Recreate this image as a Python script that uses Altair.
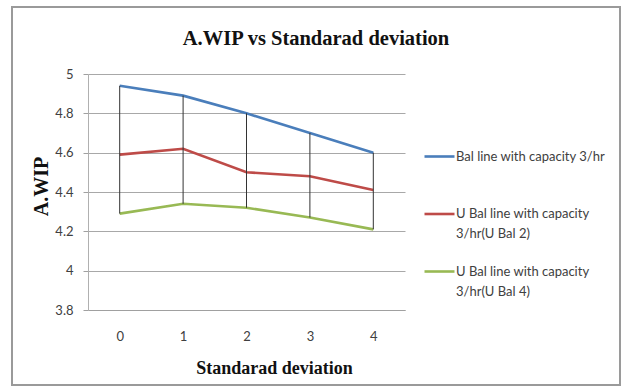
import altair as alt
import pandas as pd

sd = [0, 1, 2, 3, 4]
bal = [4.94, 4.89, 4.80, 4.70, 4.60]
ubal2 = [4.59, 4.62, 4.50, 4.48, 4.41]
ubal4 = [4.29, 4.34, 4.32, 4.27, 4.21]
series_names = [
    "Bal line with capacity 3/hr|",
    "U Bal line with capacity|3/hr(U Bal 2)",
    "U Bal line with capacity|3/hr(U Bal 4)",
]
colors = ["#4a7ebb", "#be4b48", "#98b954"]
y_ticks = [3.8, 4.0, 4.2, 4.4, 4.6, 4.8, 5.0]

rows = []
for name, vals in zip(series_names, [bal, ubal2, ubal4]):
    for x, v in zip(sd, vals):
        rows.append({"sd": x, "value": v, "series": name})
df = pd.DataFrame(rows)
df_hl = pd.DataFrame({"sd": sd, "lo": ubal4, "hi": bal})

W, H = 317, 236
xscale = alt.Scale(type="point", padding=0.5)
yscale = alt.Scale(domain=[3.8, 5.0], nice=False, zero=False)

base_font = "Lato"

x_axis = alt.Axis(
    title="Standarad deviation",
    grid=False,
    labelAngle=0,
    labelFont=base_font,
    labelFontSize=13,
    labelColor="#404040",
    labelPadding=20,
    tickSize=0,
    domainColor="#a0a0a0",
    titleFont="Liberation Serif",
    titleFontWeight="bold",
    titleFontSize=18,
    titleColor="#111111",
    titleX=186,
    titleY=58,
    titleBaseline="middle",
)
y_axis = alt.Axis(
    title="A.WIP",
    values=y_ticks,
    grid=True,
    labelOverlap=False,
    format=".1~f",
    labelFont=base_font,
    labelFontSize=13,
    labelColor="#404040",
    labelPadding=10,
    tickSize=5,
    tickColor="#a0a0a0",
    domainColor="#b0b0b0",
    gridColor="#a8a8a8",
    titleFont="Liberation Serif",
    titleFontWeight="bold",
    titleFontSize=20,
    titleColor="#111111",
    titleX=-47,
    titleY=112,
    titleBaseline="middle",
    titleAngle=-90,
)

border = alt.Chart(pd.DataFrame({"a": [0]})).mark_rect(
    fill=None, stroke="#9a9a9a", strokeWidth=2
).encode(
    x=alt.value(-76), x2=alt.value(532), y=alt.value(-67), y2=alt.value(311)
)

hilo = alt.Chart(df_hl).mark_rule(color="#333333", strokeWidth=1).encode(
    x=alt.X("sd:O", scale=xscale, axis=x_axis),
    y=alt.Y("lo:Q", scale=yscale, axis=y_axis),
    y2="hi:Q",
)

lines = alt.Chart(df).mark_line(strokeWidth=2.6).encode(
    x=alt.X("sd:O", scale=xscale, axis=x_axis),
    y=alt.Y("value:Q", scale=yscale, axis=y_axis),
    color=alt.Color(
        "series:N",
        scale=alt.Scale(domain=series_names, range=colors),
        legend=alt.Legend(
            title=None,
            orient="none",
            legendX=335,
            legendY=66,
            symbolType="stroke",
            symbolSize=900,
            symbolStrokeWidth=2.6,
            labelExpr="split(datum.label, '|')",
            labelFont=base_font,
            labelFontSize=13,
            labelColor="#404040",
            labelOffset=0,
            labelBaseline="middle",
            rowPadding=13.5,
            labelLimit=300,
            padding=0,
        ),
    ),
)

chart = (
    alt.layer(border, lines, hilo)
    .properties(
        width=W,
        height=H,
        padding={"left": 11, "top": 6, "right": 2, "bottom": 2},
        background="white",
        title=alt.TitleParams(
            "A.WIP vs Standarad deviation",
            font="Liberation Serif",
            fontWeight="bold",
            fontSize=20.5,
            color="#111111",
            frame="bounds",
            anchor="middle",
            offset=-43,
        ),
    )
    .configure(
        view={"stroke": None},
        style={"guide-label": {"lineHeight": 20}},
    )
)

chart.save("out.html", embed_options={"renderer": "svg", "actions": False})
